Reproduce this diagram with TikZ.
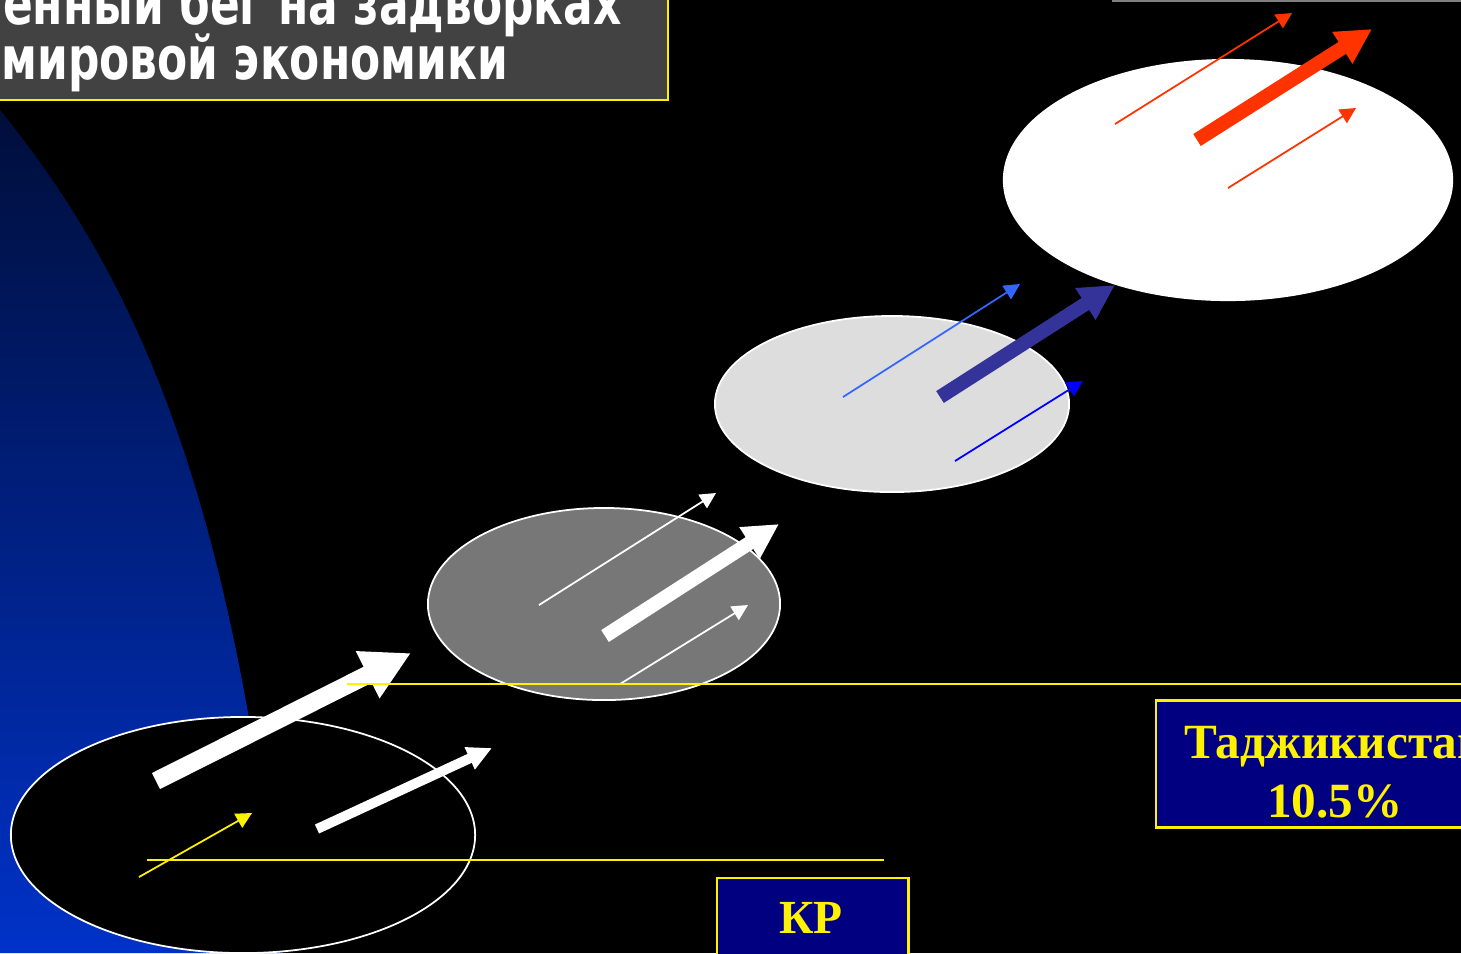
\documentclass[tikz,border=0pt]{standalone}
\usepackage{fontspec}
\usetikzlibrary{arrows.meta}
\newfontfamily\headfont{DejaVu Sans}
\newfontfamily\boxfont{Liberation Serif}
\definecolor{navybox}{HTML}{000080}
\definecolor{redarr}{HTML}{FF3300}
\definecolor{bluethin}{HTML}{3366FF}
\definecolor{bluethick}{HTML}{333399}
\definecolor{bluepure}{HTML}{0000FF}
\definecolor{grayring}{HTML}{777777}
\definecolor{lightring}{HTML}{DDDDDD}
\begin{document}
\begin{tikzpicture}[x=0.01cm, y=-0.01cm,
    thinarr/.style={-{Triangle[length=4.5pt,width=4.5pt]}, line width=0.5pt},
    medarr/.style={-{Triangle[length=7pt,width=6.5pt]}, line width=2.8pt},
    thickarr/.style={-{Triangle[length=10pt,width=10pt]}, line width=4pt},
    bigarr/.style={-{Triangle[length=13.8pt,width=14pt]}, line width=5.1pt},
    ring/.style={draw=white, line width=0.5pt},
    headtext/.style={inner sep=0pt, text=white, xscale=0.735, font=\headfont\bfseries\fontsize{17}{17}\selectfont},
    yellowbox/.style={draw=yellow, line width=0.7pt, fill=navybox, inner sep=0pt},
    boxtext/.style={text=yellow, inner sep=0pt, anchor=base}]
\path[use as bounding box] (0,0) rectangle (1461,953);
\clip (0,0) rectangle (1461,953);
\fill[black] (0,0) rectangle (1461,953);

% blue glow on the left
\shade[top color={rgb,255:red,0;green,14;blue,58}, bottom color={rgb,255:red,0;green,50;blue,200}]
    (0,110) .. controls (155,300) and (235,530) .. (282,953) -- (0,953) -- cycle;

% title
\draw[draw=yellow, line width=0.8pt, fill=black!74] (-10,-10) rectangle (668,100);
\node[headtext, anchor=base east] (titleA) at (622,24) {енный бег на задворках};
\node[headtext, anchor=base west] (titleB) at (1,79) {мировой экономики};

% level 1
\begin{scope}
\draw[ring, fill=black] (243,835) ellipse [x radius=2.32cm, y radius=1.18cm];
\draw[bigarr, white] (156,781) -- (411,653);
\draw[medarr, white] (317,829) -- (492,748);
\draw[thinarr, yellow] (139,877) -- (252,813);
\end{scope}

% level 2
\begin{scope}
\draw[ring, fill=grayring] (604,604) ellipse [x radius=1.76cm, y radius=0.96cm];
\draw[thinarr, white] (539,605) -- (716,493);
\draw[thickarr, white] (605,636) -- (779,524);
\draw[thinarr, white] (620,684) -- (748,605);
\end{scope}

% level 3
\begin{scope}
\draw[ring, fill=lightring] (892,404) ellipse [x radius=1.77cm, y radius=0.88cm];
\draw[thinarr, bluethin] (843,397) -- (1020,284);
\draw[thickarr, bluethick] (940,397) -- (1115,285);
\draw[thinarr, bluepure] (955,461) -- (1083,381);
\end{scope}

% level 4
\begin{scope}
\fill[white] (1228,180) ellipse [x radius=2.25cm, y radius=1.21cm];
\draw[thinarr, redarr] (1115,124) -- (1292,13);
\draw[thickarr, redarr] (1197,140) -- (1372,29);
\draw[thinarr, redarr] (1228,188) -- (1356,108);
\end{scope}

% guide lines
\draw[yellow, line width=0.6pt] (347,684) -- (1461,684);
\draw[yellow, line width=0.6pt] (147,860) -- (884,860);
\draw[gray, line width=0.6pt] (1112,0.5) -- (1461,0.5);

% labels
\node[yellowbox, minimum width=3.58cm, minimum height=1.27cm] (tajik) at (1335,764) {};
\node[boxtext, font=\boxfont\bfseries\fontsize{14}{14}\selectfont] (tajikA) at (1335,758) {Таджикистан};
\node[boxtext, font=\boxfont\bfseries\fontsize{14}{14}\selectfont] (tajikB) at (1335,817) {10.5\%};
\node[yellowbox, minimum width=1.91cm, minimum height=1.0cm, anchor=north west] (kr) at (716,877) {};
\node[boxtext, font=\boxfont\bfseries\fontsize{13.5}{14}\selectfont] (krA) at (811,933) {КР};
\end{tikzpicture}
\end{document}
